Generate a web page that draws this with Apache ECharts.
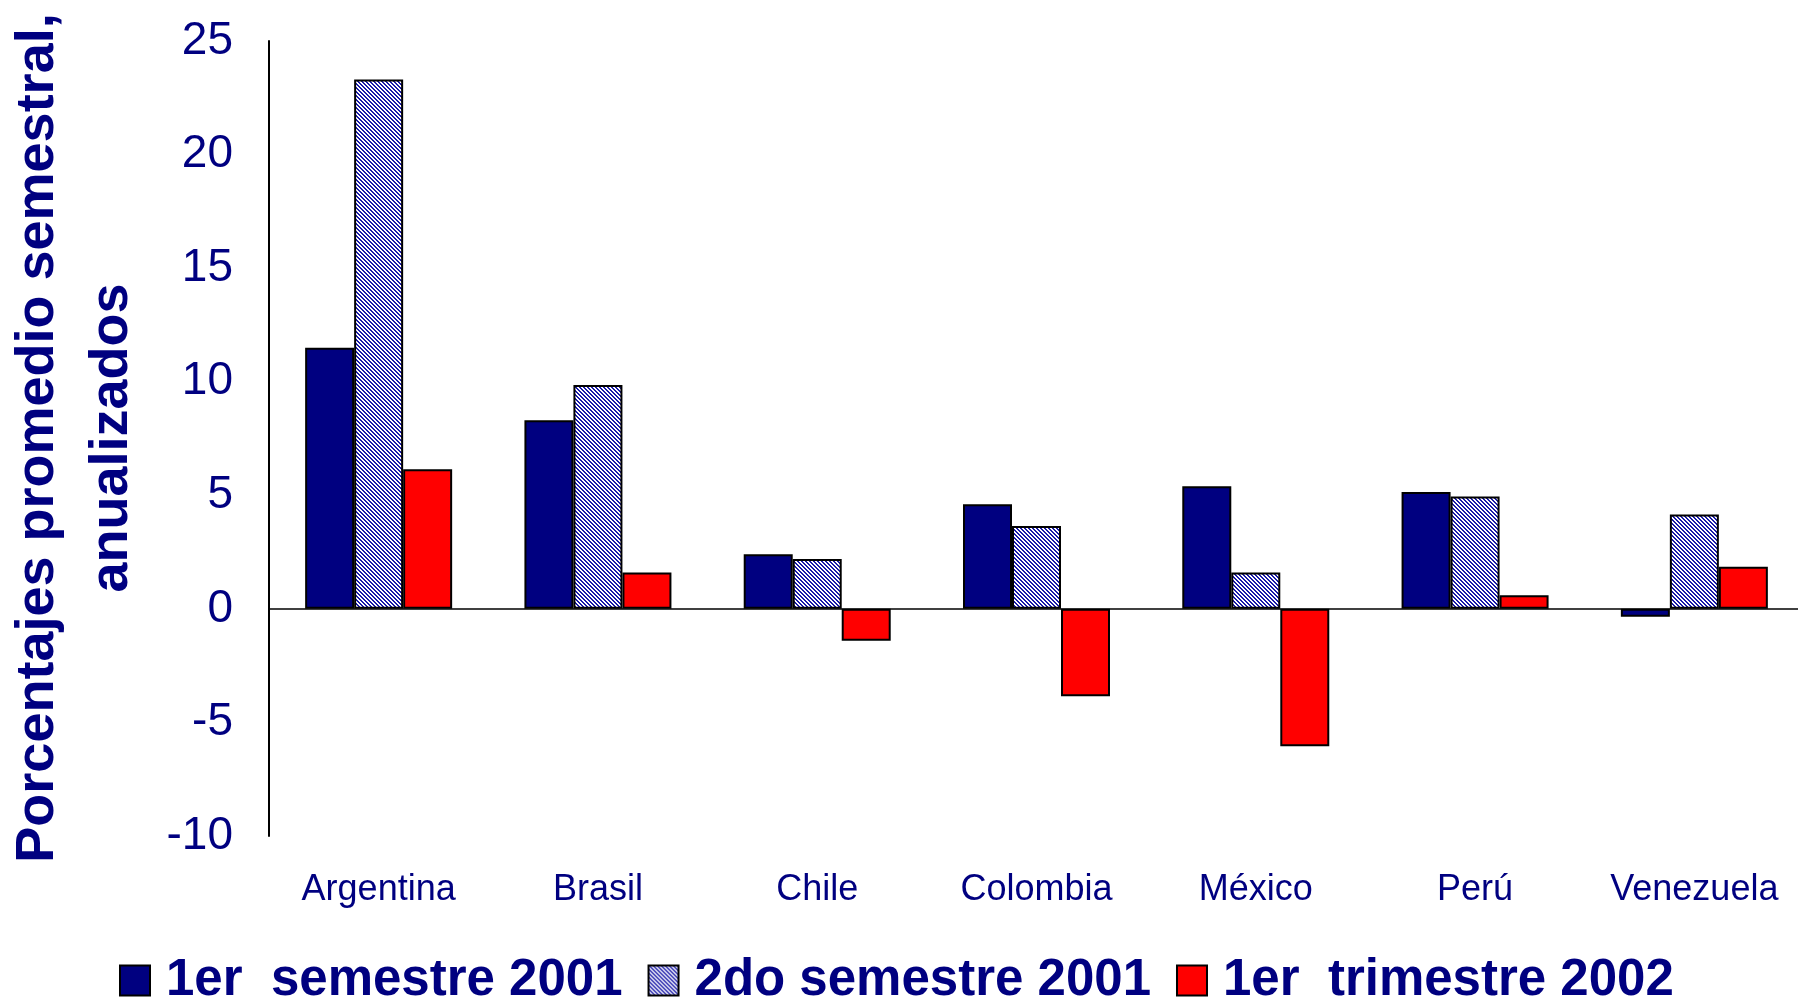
<!DOCTYPE html>
<html>
<head>
<meta charset="utf-8">
<script src="https://cdn.jsdelivr.net/npm/echarts@6/dist/echarts.min.js"></script>
<style>
  html, body { margin: 0; padding: 0; background: #fff; overflow: hidden; }
  #chart { width: 1804px; height: 1002px; }
</style>
</head>
<body>
<div id="chart"></div>
<script>
const countries = ['Argentina', 'Brasil', 'Chile', 'Colombia', 'México', 'Perú', 'Venezuela'];
const sem1_2001 = [11.5, 8.3, 2.4, 4.6, 5.4, 5.15, -0.35];
const sem2_2001 = [23.3, 9.85, 2.2, 3.65, 1.6, 4.95, 4.15];
const trim1_2002 = [6.15, 1.6, -1.4, -3.85, -6.05, 0.6, 1.85];
const seriesNames = ['1er  semestre 2001', '2do semestre 2001', '1er  trimestre 2002'];

const navy = '#000080';

// trama diagonal para la segunda serie
function hatch() {
    const c = document.createElement('canvas');
    c.width = 4;
    c.height = 4;
    const ctx = c.getContext('2d');
    ctx.fillStyle = '#fff';
    ctx.fillRect(0, 0, 4, 4);
    ctx.fillStyle = '#1a1aa8';
    for (let i = 0; i < 4; i++) {
        ctx.fillRect(i, i, 1, 1);
        ctx.fillRect((i + 1) % 4, i, 1, 1);
    }
    return { image: c, repeat: 'repeat' };
}

const barBase = {
    type: 'bar',
    barWidth: 49,
    barGap: '0%'
};

const myChart = echarts.init(document.getElementById('chart'));
const option = {
    animation: false,
    grid: { left: 269, top: 41, right: 0, bottom: 166, containLabel: false },
    legend: {
        left: 114,
        top: 950,
        icon: 'rect',
        itemWidth: 30,
        itemHeight: 30,
        itemGap: 25,
        textStyle: {
            color: navy, fontSize: 51, fontWeight: 'bold',
            fontFamily: 'Liberation Sans, Arial, sans-serif',
            padding: [0, 0, 0, 11]
        },
        data: seriesNames
    },
    xAxis: {
        type: 'category',
        data: countries,
        axisLine: { show: false },
        axisTick: { show: false },
        axisLabel: {
            interval: 0,
            color: navy, fontSize: 36, margin: 36,
            fontFamily: 'Liberation Sans, Arial, sans-serif'
        }
    },
    yAxis: {
        type: 'value',
        min: -10,
        max: 25,
        interval: 5,
        splitLine: { show: false },
        axisTick: { show: false },
        axisLine: { show: true, lineStyle: { color: '#000', width: 2 } },
        axisLabel: {
            color: navy, fontSize: 46, margin: 36,
            fontFamily: 'Liberation Sans, Arial, sans-serif'
        }
    },
    graphic: [
        {
            type: 'text', x: 38, y: 438, rotation: Math.PI / 2,
            style: {
                text: 'Porcentajes promedio semestral,', fill: navy,
                font: 'bold 54px Liberation Sans, Arial, sans-serif',
                align: 'center', verticalAlign: 'middle'
            }
        },
        {
            type: 'text', x: 112, y: 438, rotation: Math.PI / 2,
            style: {
                text: 'anualizados', fill: navy,
                font: 'bold 54px Liberation Sans, Arial, sans-serif',
                align: 'center', verticalAlign: 'middle'
            }
        }
    ],
    series: [
        Object.assign({}, barBase, {
            name: seriesNames[0],
            data: sem1_2001,
            itemStyle: { color: navy, borderColor: '#000', borderWidth: 2 },
            markLine: {
                silent: true,
                symbol: 'none',
                label: { show: false },
                lineStyle: { color: '#000', type: 'solid', width: 1.5 },
                data: [{ yAxis: 0 }]
            }
        }),
        Object.assign({}, barBase, {
            name: seriesNames[1],
            data: sem2_2001,
            itemStyle: { color: hatch(), borderColor: '#000', borderWidth: 2 }
        }),
        Object.assign({}, barBase, {
            name: seriesNames[2],
            data: trim1_2002,
            itemStyle: { color: '#ff0000', borderColor: '#000', borderWidth: 2 }
        })
    ]
};
myChart.setOption(option);
window.addEventListener('resize', () => myChart.resize());
</script>
</body>
</html>
